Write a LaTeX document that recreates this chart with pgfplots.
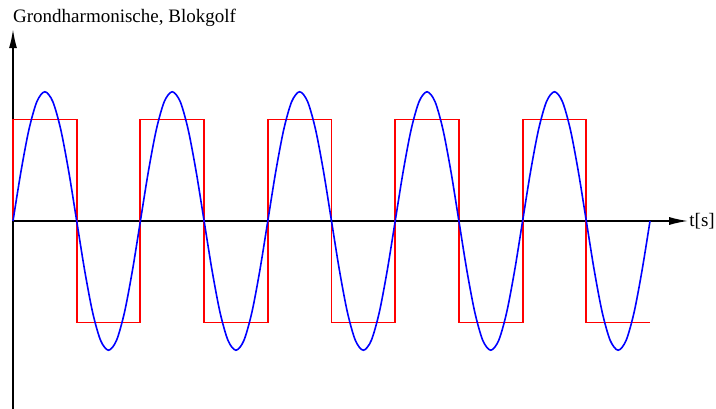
\documentclass[border=0pt]{standalone}
\usepackage{fontspec}
\setmainfont{Liberation Serif}
\usepackage{pgfplots}
\pgfplotsset{compat=1.18}
\usetikzlibrary{arrows.meta}

\begin{document}
\begin{tikzpicture}
\begin{axis}[
  x=127.4bp, y=101.5bp,
  xmin=0, xmax=5.30, ymin=-1.85, ymax=1.89,
  axis lines=middle, ticks=none, clip=false,
  axis line style={line width=1.6bp, black, -{Latex[length=19bp,width=8bp]}},
]
% Blokgolf
\addplot[red, sharp plot, line width=1.9bp] coordinates {
  (0,0)(0,1)(0.5,1)(0.5,-1)(1,-1)(1,1)(1.5,1)(1.5,-1)(2,-1)(2,1)(2.5,1)(2.5,-1)
  (3,-1)(3,1)(3.5,1)(3.5,-1)(4,-1)(4,1)(4.5,1)(4.5,-1)(5,-1)};
% Grondharmonische (amplitude 4/pi)
\addplot[blue, smooth, line width=1.6bp] coordinates {
  (0,0)(0.0625,0.4872)(0.125,0.9003)(0.1875,1.1763)(0.25,1.2732)(0.3125,1.1763)(0.375,0.9003)(0.4375,0.4872)
  (0.5,0)(0.5625,-0.4872)(0.625,-0.9003)(0.6875,-1.1763)(0.75,-1.2732)(0.8125,-1.1763)(0.875,-0.9003)(0.9375,-0.4872)
  (1,0)(1.0625,0.4872)(1.125,0.9003)(1.1875,1.1763)(1.25,1.2732)(1.3125,1.1763)(1.375,0.9003)(1.4375,0.4872)
  (1.5,0)(1.5625,-0.4872)(1.625,-0.9003)(1.6875,-1.1763)(1.75,-1.2732)(1.8125,-1.1763)(1.875,-0.9003)(1.9375,-0.4872)
  (2,0)(2.0625,0.4872)(2.125,0.9003)(2.1875,1.1763)(2.25,1.2732)(2.3125,1.1763)(2.375,0.9003)(2.4375,0.4872)
  (2.5,0)(2.5625,-0.4872)(2.625,-0.9003)(2.6875,-1.1763)(2.75,-1.2732)(2.8125,-1.1763)(2.875,-0.9003)(2.9375,-0.4872)
  (3,0)(3.0625,0.4872)(3.125,0.9003)(3.1875,1.1763)(3.25,1.2732)(3.3125,1.1763)(3.375,0.9003)(3.4375,0.4872)
  (3.5,0)(3.5625,-0.4872)(3.625,-0.9003)(3.6875,-1.1763)(3.75,-1.2732)(3.8125,-1.1763)(3.875,-0.9003)(3.9375,-0.4872)
  (4,0)(4.0625,0.4872)(4.125,0.9003)(4.1875,1.1763)(4.25,1.2732)(4.3125,1.1763)(4.375,0.9003)(4.4375,0.4872)
  (4.5,0)(4.5625,-0.4872)(4.625,-0.9003)(4.6875,-1.1763)(4.75,-1.2732)(4.8125,-1.1763)(4.875,-0.9003)(4.9375,-0.4872)
  (5,0)};
\coordinate (O) at (axis cs:0,0);
\node[anchor=base west, inner sep=0pt, font=\fontsize{19bp}{23bp}\selectfont]
  at (axis cs:0,1.954) {Grondharmonische, Blokgolf};
\node[anchor=west, inner sep=1bp, font=\fontsize{19bp}{23bp}\selectfont]
  at (axis cs:5.30,0) {t[s]};
\end{axis}
\pgfresetboundingbox
\path ([shift={(-13bp,-188bp)}]O) rectangle ([shift={(703bp,221bp)}]O);
\end{tikzpicture}
\end{document}
